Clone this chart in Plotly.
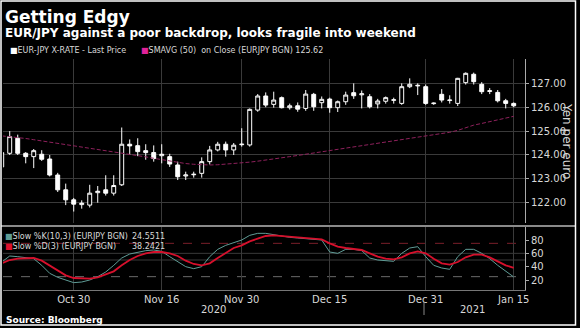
import pandas as pd
import plotly.graph_objects as go
from plotly.subplots import make_subplots

# Trading days (weekdays) covered by the chart
dates = [d.strftime("%Y-%m-%d") for d in pd.bdate_range("2020-10-19", "2021-01-15")]

# EUR-JPY daily candles
open_ = [123.50, 124.07, 124.70, 124.07, 123.93, 124.03, 123.83, 123.16, 122.54, 122.12,
         121.92, 121.90, 122.42, 122.54, 122.40, 122.75, 124.45, 124.39, 124.18, 124.10,
         123.97, 123.93, 123.58, 123.12, 123.17, 123.23, 123.72, 124.21, 124.45, 124.21,
         124.43, 124.42, 125.88, 126.47, 126.12, 126.40, 125.98, 126.06, 125.95, 126.54,
         126.19, 126.34, 125.98, 126.23, 126.61, 126.52, 126.44, 126.14, 126.25, 126.29,
         126.16, 126.86, 126.92, 126.86, 126.15, 126.54, 126.28, 126.16, 127.03, 127.38,
         126.96, 126.66, 126.62, 126.27, 126.16]
high = [124.20, 125.00, 124.85, 124.12, 124.25, 124.20, 124.00, 123.25, 122.80, 122.20,
        122.10, 122.75, 122.70, 123.15, 123.15, 125.15, 124.65, 124.70, 124.45, 124.40,
        124.45, 124.05, 123.72, 123.30, 123.30, 123.90, 124.38, 124.55, 124.56, 124.50,
        125.12, 125.95, 126.55, 126.62, 126.65, 126.45, 126.15, 126.20, 126.72, 126.60,
        126.45, 126.40, 126.28, 126.65, 127.00, 126.70, 126.55, 126.35, 126.45, 126.40,
        127.00, 127.21, 127.00, 126.95, 126.20, 126.76, 126.50, 127.23, 127.46, 127.45,
        127.05, 126.80, 126.72, 126.35, 126.20]
low = [123.45, 124.00, 124.00, 123.65, 123.45, 123.75, 123.10, 122.45, 121.90, 121.63,
       121.75, 121.80, 122.00, 122.30, 122.30, 122.70, 124.00, 123.95, 123.80, 123.72,
       123.65, 123.50, 122.95, 122.95, 123.05, 123.05, 123.60, 124.15, 123.93, 124.00,
       124.35, 124.35, 125.81, 126.00, 125.98, 125.95, 125.90, 125.81, 125.85, 125.85,
       125.95, 125.77, 125.80, 126.10, 126.35, 125.95, 125.95, 125.95, 126.15, 126.15,
       126.10, 126.80, 126.51, 126.10, 126.10, 126.20, 126.15, 126.05, 126.95, 126.95,
       126.55, 126.55, 126.20, 125.95, 126.00]
close = [124.10, 124.77, 124.07, 123.93, 124.18, 123.82, 123.16, 122.54, 122.12, 121.94,
         121.98, 122.40, 122.48, 122.40, 122.72, 124.45, 124.38, 124.14, 124.10, 123.85,
         124.03, 123.62, 123.09, 123.16, 123.19, 123.72, 124.21, 124.45, 124.21, 124.41,
         124.45, 125.91, 126.47, 126.09, 126.30, 125.98, 126.06, 125.92, 126.55, 126.02,
         126.33, 125.98, 126.23, 126.51, 126.48, 126.56, 126.02, 126.26, 126.40, 126.31,
         126.86, 126.96, 126.90, 126.16, 126.17, 126.30, 126.30, 127.21, 127.42, 127.07,
         126.65, 126.69, 126.27, 126.16, 126.06]

# 50-day simple moving average of the close
sma50 = [124.80, 124.77, 124.73, 124.69, 124.64, 124.59, 124.55, 124.50, 124.45, 124.40,
         124.35, 124.30, 124.25, 124.20, 124.13, 124.07, 124.02, 123.97, 123.92, 123.86,
         123.80, 123.74, 123.68, 123.64, 123.61, 123.59, 123.58, 123.59, 123.61, 123.63,
         123.66, 123.70, 123.74, 123.78, 123.83, 123.88, 123.93, 123.98, 124.03, 124.08,
         124.13, 124.18, 124.23, 124.28, 124.33, 124.38, 124.43, 124.48, 124.53, 124.58,
         124.63, 124.68, 124.72, 124.77, 124.82, 124.89, 124.95, 125.03, 125.14, 125.25,
         125.32, 125.39, 125.46, 125.54, 125.62]

# Slow stochastic oscillator
slow_k = [47, 56, 55, 53, 52, 42, 30, 24, 20, 16,
          17, 20, 25, 32, 42, 53, 59, 62, 64, 65,
          63, 55, 47, 40, 37, 40, 55, 66, 72, 76,
          80, 87, 90, 90, 88, 85, 84, 83, 82, 82,
          80, 62, 60, 66, 66, 64, 53, 50, 49, 48,
          60, 68, 70, 55, 42, 38, 36, 55, 66, 66,
          60, 52, 42, 33, 24.5511]
slow_d = [45, 50, 52, 53, 53, 49, 42, 34, 27, 23,
          22, 22, 24, 28, 33, 42, 50, 56, 60, 62,
          62, 60, 56, 49, 44, 42, 45, 53, 61, 68,
          72, 78, 82, 86, 87, 86, 85, 84, 83, 82,
          81, 75, 70, 68, 67, 65, 60, 55, 52, 51,
          54, 60, 63, 60, 52, 45, 43, 47, 54, 58,
          58, 54, 48, 42, 38.2421]

# Axis ticks
date_ticks = ["2020-10-30", "2020-11-16", "2020-11-30", "2020-12-15", "2020-12-31", "2021-01-15"]
date_tick_text = ["Oct 30", "Nov 16", "Nov 30", "Dec 15", "Dec 31", "Jan 15"]
price_ticks = [122, 123, 124, 125, 126, 127]
stoch_ticks = [20, 40, 60, 80]

BG = "#000000"
GRID = "#3a3a3a"
TXT = "#d8d8d8"
FONT = "DejaVu Sans"

W, H = 580, 328
ML, MR, MT, MB = 3, 55, 59, 38
PW, PH = W - ML - MR, H - MT - MB


def px(x):
    return (x - ML) / PW


def py(y):
    return (H - MB - y) / PH


fig = make_subplots(rows=2, cols=1, shared_xaxes=True)

fig.add_trace(go.Candlestick(
    x=dates, open=open_, high=high, low=low, close=close,
    increasing=dict(line=dict(color="#ffffff", width=1), fillcolor="#000000"),
    decreasing=dict(line=dict(color="#ffffff", width=1), fillcolor="#ffffff"),
    whiskerwidth=0, showlegend=False, hoverinfo="skip",
), row=1, col=1)

fig.add_trace(go.Scatter(
    x=dates, y=sma50, mode="lines",
    line=dict(color="#8e215c", width=1, dash="4px,2px"),
    showlegend=False, hoverinfo="skip",
), row=1, col=1)

fig.add_trace(go.Scatter(
    x=dates, y=slow_k, mode="lines",
    line=dict(color="#5f9c96", width=1),
    showlegend=False, hoverinfo="skip",
), row=2, col=1)

fig.add_trace(go.Scatter(
    x=dates, y=slow_d, mode="lines",
    line=dict(color="#d6102c", width=1.8),
    showlegend=False, hoverinfo="skip",
), row=2, col=1)

xcommon = dict(type="category", range=[0.16, 65.41], showgrid=True, gridcolor=GRID,
               gridwidth=1, tickvals=date_ticks, ticktext=date_tick_text, zeroline=False,
               showline=False, ticks="")
fig.update_xaxes(**xcommon)
fig.update_layout(
    xaxis=dict(showticklabels=False),
    xaxis2=dict(showticklabels=True, tickfont=dict(family=FONT, size=10, color=TXT),
                showline=True, linecolor="#777777", linewidth=1),
)

fig.update_layout(
    yaxis=dict(domain=[py(223), 1], side="right", range=[121.15, 128.02],
               tickvals=price_ticks, tickformat=".2f", showgrid=True, gridcolor=GRID,
               tickfont=dict(family=FONT, size=10, color=TXT), ticks="outside",
               ticklen=3, tickcolor="#aaaaaa", showline=True, linecolor="#aaaaaa",
               linewidth=1, zeroline=False),
    yaxis2=dict(domain=[0, py(227)], side="right", range=[5, 99.5],
                tickvals=stoch_ticks, showgrid=False,
                tickfont=dict(family=FONT, size=10, color=TXT), ticks="outside",
                ticklen=3, tickcolor="#aaaaaa", showline=True, linecolor="#aaaaaa",
                linewidth=1, zeroline=False),
    xaxis_rangeslider_visible=False,
)

shapes = []
# stochastic reference levels
for lvl, col, dash in [(60, GRID, "solid"), (50, GRID, "solid"),
                       (75, "#7a1f2a", "dash"), (25, "#6a6a6a", "dash")]:
    shapes.append(dict(type="line", xref="x2 domain", yref="y2", x0=0, x1=1, y0=lvl, y1=lvl,
                       line=dict(color=col, width=1, dash=dash), layer="below"))
# panel separator
shapes.append(dict(type="line", xref="paper", yref="paper", x0=px(1), x1=px(575.5),
                   y0=py(226), y1=py(226), line=dict(color="#8a8a8a", width=2)))
# year divider under the date axis
shapes.append(dict(type="line", xref="paper", yref="paper", x0=px(424), x1=px(424),
                   y0=py(302), y1=py(315), line=dict(color="#888888", width=1)))
# outer frame
shapes.append(dict(type="rect", xref="paper", yref="paper", x0=px(1), x1=px(575.5),
                   y0=py(325), y1=py(1), line=dict(color="#ffffff", width=1.5)))
fig.update_layout(shapes=shapes)

ann = []


def text(x, y, s, size, color=TXT, bold=False, xanchor="left", angle=0):
    ann.append(dict(xref="paper", yref="paper", x=px(x), y=py(y), text=("<b>%s</b>" % s) if bold else s,
                    showarrow=False, xanchor=xanchor, yanchor="middle", textangle=angle,
                    font=dict(family=FONT, size=size, color=color)))


text(3, 17, "Getting Edgy", 17, "#ffffff", bold=True)
text(3, 33, "EUR/JPY against a poor backdrop, looks fragile into weekend", 12, "#ffffff", bold=True)
text(8, 50, '<span style="color:#ffffff">■</span>EUR-JPY X-RATE - Last Price', 8)
text(139, 50, '<span style="color:#e0229a">■</span>SMAVG (50)  on Close (EURJPY BGN) 125.62', 8)
text(3, 236, '<span style="color:#5f9c96">■</span>Slow %K(10,3) (EURJPY BGN)', 8)
text(3, 246, '<span style="color:#e0102c">■</span>Slow %D(3) (EURJPY BGN)', 8)
text(130, 236, "24.5511", 8)
text(130, 246, "38.2421", 8)
text(567, 141, "Yen per euro", 12, TXT, xanchor="center", angle=90)
text(213, 309, "2020", 10, TXT, xanchor="center")
text(472, 309, "2021", 10, TXT, xanchor="center")
text(4, 320, "Source: Bloomberg", 9, "#ffffff", bold=True)
fig.update_layout(annotations=ann)

fig.update_layout(
    width=W, height=H, paper_bgcolor=BG, plot_bgcolor=BG,
    margin=dict(l=ML, r=MR, t=MT, b=MB), showlegend=False,
    font=dict(family=FONT, color=TXT),
)

fig.write_html("out.html")
